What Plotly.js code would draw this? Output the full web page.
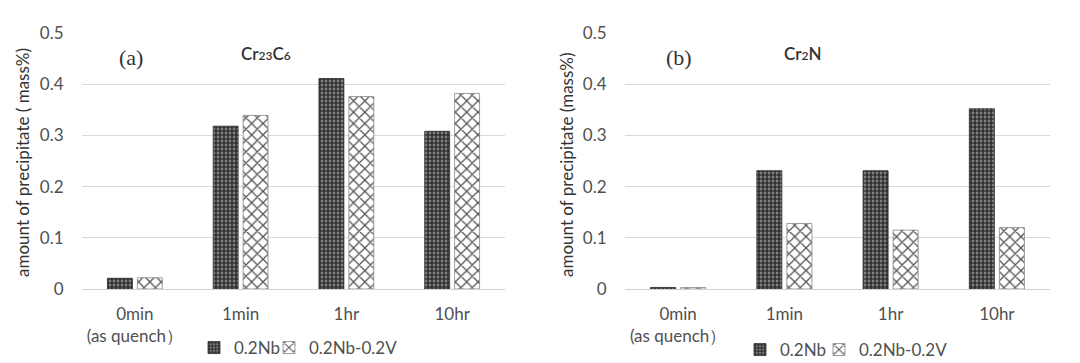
<!DOCTYPE html>
<html>
<head>
<meta charset="utf-8">
<script src="https://cdn.plot.ly/plotly-3.0.1.min.js"></script>
<style>html,body{margin:0;padding:0;background:#fff;}#chart{width:1080px;height:363px;}</style>
</head>
<body>
<div id="chart"></div>
<script>
const categories = ["0min<br>(as quench）", "1min", "1hr", "10hr"];
const seriesNames = ["0.2Nb", "0.2Nb-0.2V"];
const cr23c6_Nb = [0.021, 0.318, 0.411, 0.308];
const cr23c6_NbV = [0.022, 0.339, 0.376, 0.382];
const cr2n_Nb = [0.003, 0.231, 0.231, 0.352];
const cr2n_NbV = [0.003, 0.128, 0.115, 0.120];
const yTicks = [0, 0.1, 0.2, 0.3, 0.4, 0.5];

const FONT = "Lato, 'Open Sans', sans-serif";
const nbMarker = {
  color: "#5a5a5a",
  line: {color: "#2a2a2a", width: 0.8},
  pattern: {shape: "+", fgcolor: "#1a1a1a", bgcolor: "#808080", size: 4, solidity: 0.5, fillmode: "replace"}
};
const vMarker = {
  color: "#ffffff",
  line: {color: "#888", width: 0.8},
  pattern: {shape: "x", fgcolor: "#555", bgcolor: "#ffffff", size: 8, solidity: 0.3, fillmode: "replace"}
};

const traces = [
  {type: "bar", x: categories, y: cr23c6_Nb, name: seriesNames[0], marker: nbMarker, xaxis: "x", yaxis: "y", legend: "legend", showlegend: true},
  {type: "bar", x: categories, y: cr23c6_NbV, name: seriesNames[1], marker: vMarker, xaxis: "x", yaxis: "y", legend: "legend2", showlegend: true},
  {type: "bar", x: categories, y: cr2n_Nb, name: seriesNames[0], marker: nbMarker, xaxis: "x2", yaxis: "y2", legend: "legend3", showlegend: true},
  {type: "bar", x: categories, y: cr2n_NbV, name: seriesNames[1], marker: vMarker, xaxis: "x2", yaxis: "y2", legend: "legend4", showlegend: true}
];

const yAxisBase = {
  range: [0, 0.5], tickvals: yTicks, ticktext: yTicks.map(v => String(v)),
  showgrid: true, gridcolor: "#d9d9d9", gridwidth: 1.2, zeroline: false, showline: false,
  ticks: "outside", ticklen: 14, tickcolor: "rgba(0,0,0,0)",
  tickfont: {family: FONT, size: 17, color: "#505050"},
  domain: [1 - 289/363, 1 - 33/363], fixedrange: true
};
const xAxisBase = {
  type: "category", showgrid: false, zeroline: false, showline: true, linecolor: "#d0d0d0", linewidth: 1.2,
  ticks: "outside", ticklen: 9, tickcolor: "rgba(0,0,0,0)",
  tickfont: {family: FONT, size: 17, color: "#505050"}
};

const legendBase = {
  orientation: "h", xanchor: "left", yanchor: "middle", visible: true,
  font: {family: FONT, size: 17, color: "#505050"}, itemwidth: 30, tracegroupgap: 0, bgcolor: "rgba(0,0,0,0)"
};

const layout = {
  width: 1080, height: 363,
  showlegend: true,
  margin: {l: 0, r: 0, t: 0, b: 0, autoexpand: false},
  paper_bgcolor: "#fff", plot_bgcolor: "#fff",
  barmode: "group", bargap: 0.434, bargroupgap: 0.167,
  font: {family: FONT, color: "#505050"},
  xaxis: Object.assign({}, xAxisBase, {domain: [82/1080, 505/1080], anchor: "y"}),
  yaxis: Object.assign({}, yAxisBase, {anchor: "x"}),
  xaxis2: Object.assign({}, xAxisBase, {domain: [625/1080, 1050/1080], anchor: "y2"}),
  yaxis2: Object.assign({}, yAxisBase, {anchor: "x2"}),
  legend: Object.assign({}, legendBase, {x: 194/1080, y: 1 - 348/363}),
  legend2: Object.assign({}, legendBase, {x: 269/1080, y: 1 - 348/363}),
  legend3: Object.assign({}, legendBase, {x: 740/1080, y: 1 - 350/363}),
  legend4: Object.assign({}, legendBase, {x: 819/1080, y: 1 - 350/363}),
  annotations: [
    {xref: "paper", yref: "paper", x: 22/1080, y: 1 - 163/363, xanchor: "center", yanchor: "middle",
      text: "amount of precipitate ( mass%)", textangle: -90,
      showarrow: false, font: {family: FONT, size: 17, color: "#333"}},
    {xref: "paper", yref: "paper", x: 566/1080, y: 1 - 165/363, xanchor: "center", yanchor: "middle",
      text: "amount of precipitate (mass%)", textangle: -90,
      showarrow: false, font: {family: FONT, size: 17, color: "#333"}},
    {xref: "paper", yref: "paper", x: 131/1080, y: 1 - 57/363, xanchor: "center", yanchor: "middle",
      text: "(a)", showarrow: false,
      font: {family: "'Liberation Serif', 'DejaVu Serif', serif", size: 22, color: "#333"}},
    {xref: "paper", yref: "paper", x: 679/1080, y: 1 - 57/363, xanchor: "center", yanchor: "middle",
      text: "(b)", showarrow: false,
      font: {family: "'Liberation Serif', 'DejaVu Serif', serif", size: 22, color: "#333"}},
    {xref: "paper", yref: "paper", x: 266/1080, y: 1 - 53/363, xanchor: "center", yanchor: "middle",
      text: "Cr<span style='font-size:12px'>23</span>C<span style='font-size:12px'>6</span>", showarrow: false,
      font: {family: FONT, size: 17, color: "#333", weight: 600}},
    {xref: "paper", yref: "paper", x: 803/1080, y: 1 - 53/363, xanchor: "center", yanchor: "middle",
      text: "Cr<span style='font-size:12px'>2</span>N", showarrow: false,
      font: {family: FONT, size: 17, color: "#333", weight: 600}}
  ]
};

Plotly.newPlot("chart", traces, layout, {displayModeBar: false, staticPlot: true});
</script>
</body>
</html>
